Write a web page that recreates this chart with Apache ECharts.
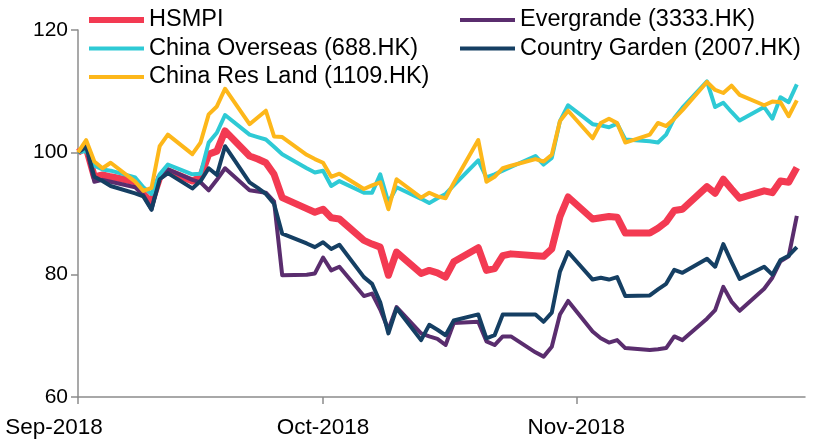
<!DOCTYPE html>
<html>
<head>
<meta charset="utf-8">
<script src="https://cdn.jsdelivr.net/npm/echarts@6/dist/echarts.min.js"></script>
<style>
  html, body { margin: 0; padding: 0; background: #fff; }
  #chart { width: 819px; height: 439px; }
</style>
</head>
<body>
<div id="chart"></div>
<script>
// 日期（每周5个点）
const dates = [
  '2018-09-01', '2018-09-02', '2018-09-03', '2018-09-04', '2018-09-05',
  '2018-09-08', '2018-09-09', '2018-09-10', '2018-09-11', '2018-09-12',
  '2018-09-15', '2018-09-16', '2018-09-17', '2018-09-18', '2018-09-19',
  '2018-09-22', '2018-09-23', '2018-09-24', '2018-09-25', '2018-09-26',
  '2018-09-29', '2018-09-30', '2018-10-01', '2018-10-02', '2018-10-03',
  '2018-10-06', '2018-10-07', '2018-10-08', '2018-10-09', '2018-10-10',
  '2018-10-13', '2018-10-14', '2018-10-15', '2018-10-16', '2018-10-17',
  '2018-10-20', '2018-10-21', '2018-10-22', '2018-10-23', '2018-10-24',
  '2018-10-27', '2018-10-28', '2018-10-29', '2018-10-30', '2018-10-31',
  '2018-11-03', '2018-11-04', '2018-11-05', '2018-11-06', '2018-11-07',
  '2018-11-10', '2018-11-11', '2018-11-12', '2018-11-13', '2018-11-14',
  '2018-11-17', '2018-11-18', '2018-11-19', '2018-11-20', '2018-11-21',
  '2018-11-24', '2018-11-25', '2018-11-26', '2018-11-27', '2018-11-28'
];

const hsmpi = [
  100.0, 100.8, 96.0, 96.3, 96.0,
  95.2, 93.2, 91.8, 95.9, 97.0,
  95.3, 96.0, 99.7, 100.2, 103.5,
  99.4, 98.9, 98.3, 96.4, 92.6,
  90.8, 90.2, 90.7, 89.3, 89.1,
  85.6, 85.0, 84.5, 79.9, 83.7,
  80.2, 80.7, 80.3, 79.6, 82.1,
  84.4, 80.7, 81.0, 83.1, 83.4,
  83.1, 83.0, 84.2, 89.5, 92.7,
  89.1, 89.3, 89.5, 89.4, 86.8,
  86.8, 87.6, 88.6, 90.5, 90.7,
  94.4, 93.3, 95.6, 94.0, 92.5,
  93.7, 93.4, 95.3, 95.1, 97.5
];

const evergrande = [
  100.0, 101.0, 95.2, 95.5, 95.2,
  94.3, 93.0, 90.7, 96.0, 97.2,
  95.5, 95.1, 93.8, 95.5, 97.4,
  93.8, 93.6, 93.4, 92.0, 79.9,
  80.0, 80.2, 82.8, 80.7, 81.3,
  76.5, 76.9, 74.3, 71.0, 74.7,
  70.4, 69.9, 69.5, 68.5, 72.1,
  72.3, 69.1, 68.5, 69.9, 69.9,
  67.3, 66.6, 68.2, 73.5, 75.7,
  70.7, 69.6, 68.9, 69.3, 68.0,
  67.7, 67.8, 68.0, 69.9, 69.3,
  72.8, 74.2, 78.0, 75.6, 74.1,
  77.7, 79.5, 82.2, 83.0, 89.6
];

const chinaOverseas = [
  100.0, 100.2, 97.8, 97.2, 97.0,
  95.9, 94.3, 93.2, 96.4, 98.0,
  96.4, 96.5, 101.6, 103.2, 106.1,
  102.9, 102.5, 102.1, 100.9, 99.7,
  97.4, 96.7, 97.0, 94.5, 95.3,
  93.4, 93.4, 96.4, 91.8, 94.3,
  92.4, 91.7, 92.5, 93.2, 94.6,
  98.7, 95.9, 96.4, 97.0, 97.6,
  99.4, 98.0, 99.1, 105.1, 107.7,
  104.6, 104.4, 104.1, 104.7, 102.1,
  101.8, 101.6, 102.9, 105.6, 107.3,
  111.6, 107.4, 108.1, 106.6, 105.2,
  107.4, 105.5, 109.0, 108.2, 111.1
];

const countryGarden = [
  100.0, 100.9, 96.0, 95.3, 94.5,
  93.3, 92.8, 90.6, 95.6, 96.6,
  94.1, 95.3, 97.4, 96.3, 101.0,
  95.1, 94.2, 93.2, 91.6, 86.7,
  85.1, 84.5, 85.3, 84.2, 84.9,
  79.6, 78.5, 75.5, 70.4, 74.5,
  69.3, 71.8, 71.0, 70.1, 72.5,
  73.5, 69.6, 70.1, 73.5, 73.5,
  73.5, 72.3, 73.8, 80.5, 83.7,
  79.2, 79.5, 79.2, 79.6, 76.5,
  76.6, 77.6, 78.5, 80.8, 80.3,
  82.6, 81.3, 85.0, 82.1, 79.3,
  81.3, 80.0, 82.4, 83.1, 84.5
];

const chinaResLand = [
  100.0, 102.0, 98.5, 97.4, 98.3,
  95.2, 93.7, 94.2, 101.0, 102.9,
  99.7, 101.6, 106.2, 107.5, 110.4,
  104.6, 105.7, 106.8, 102.6, 102.5,
  99.6, 98.9, 98.3, 96.0, 96.5,
  94.0, 94.6, 95.1, 90.7, 95.6,
  92.6, 93.4, 92.8, 92.5, 95.0,
  102.0, 95.2, 96.0, 97.4, 97.8,
  98.9, 98.5, 99.6, 105.1, 106.8,
  102.3, 104.8, 105.5, 104.8, 101.6,
  102.9, 104.8, 104.3, 105.5, 106.9,
  111.5, 110.2, 109.7, 110.9, 109.4,
  107.7, 108.3, 108.2, 105.9, 108.5
];

const monthLabels = ['Sep-2018', 'Oct-2018', 'Nov-2018'];
const yTicks = [60, 80, 100, 120];

const seriesDefs = [
  { name: 'HSMPI', data: hsmpi, color: '#F33A52', width: 7 },
  { name: 'Evergrande (3333.HK)', data: evergrande, color: '#5A2D6E', width: 4 },
  { name: 'China Overseas (688.HK)', data: chinaOverseas, color: '#2ECAD5', width: 4 },
  { name: 'Country Garden (2007.HK)', data: countryGarden, color: '#153F63', width: 4 },
  { name: 'China Res Land (1109.HK)', data: chinaResLand, color: '#FDB71A', width: 4 }
];

const FONT = '"Liberation Sans", Arial, sans-serif';
const chart = echarts.init(document.getElementById('chart'));

function legendItem(name) {
  const s = seriesDefs.find(d => d.name === name);
  return { name: name, lineStyle: { width: s.width === 7 ? 6 : 4, color: s.color } };
}

const legendCommon = {
  orient: 'vertical',
  top: 8,
  padding: 0,
  itemWidth: 55,
  itemHeight: 14,
  itemGap: 4.5,
  itemStyle: { opacity: 0 },
  textStyle: { fontFamily: FONT, fontSize: 23.5, color: '#000', lineHeight: 24 }
};

chart.setOption({
  animation: false,
  legend: [
    Object.assign({ left: 86, data: ['HSMPI', 'China Overseas (688.HK)', 'China Res Land (1109.HK)'].map(legendItem) }, legendCommon),
    Object.assign({ left: 458, data: ['Evergrande (3333.HK)', 'Country Garden (2007.HK)'].map(legendItem) }, legendCommon)
  ],
  grid: { left: 78, right: 14, top: 30, bottom: 40, containLabel: false },
  xAxis: {
    type: 'time',
    min: '2018-09-01',
    max: '2018-11-29',
    minInterval: 28 * 86400000,
    maxInterval: 31 * 86400000,
    axisLine: { lineStyle: { color: '#8c8c8c', width: 1.5 } },
    axisTick: { show: true, length: 7, lineStyle: { color: '#8c8c8c', width: 1.5 } },
    splitLine: { show: false },
    axisLabel: {
      margin: 19,
      fontFamily: FONT,
      fontSize: 22.5,
      color: '#000',
      hideOverlap: false,
      showMinLabel: true,
      formatter: function (val, idx) {
        const d = new Date(val);
        const txt = monthLabels[d.getMonth() - 8] || '';
        return idx === 0 ? '{first|' + txt + '}' : txt;
      },
      rich: {
        first: { fontFamily: FONT, fontSize: 22.5, color: '#000', padding: [0, 48, 0, 0] }
      }
    }
  },
  yAxis: {
    type: 'value',
    min: yTicks[0],
    max: yTicks[yTicks.length - 1],
    interval: 20,
    axisLine: { show: true, lineStyle: { color: '#8c8c8c', width: 1.5 } },
    axisTick: { show: true, length: 7, lineStyle: { color: '#8c8c8c', width: 1.5 } },
    splitLine: { show: false },
    axisLabel: { margin: 10, fontFamily: FONT, fontSize: 21, color: '#000' }
  },
  series: seriesDefs.map(s => ({
    name: s.name,
    type: 'line',
    showSymbol: false,
    symbol: 'none',
    data: dates.map((d, i) => [d, s.data[i]]),
    itemStyle: { color: s.color },
    lineStyle: { color: s.color, width: s.width, join: 'round' }
  }))
});
</script>
</body>
</html>
